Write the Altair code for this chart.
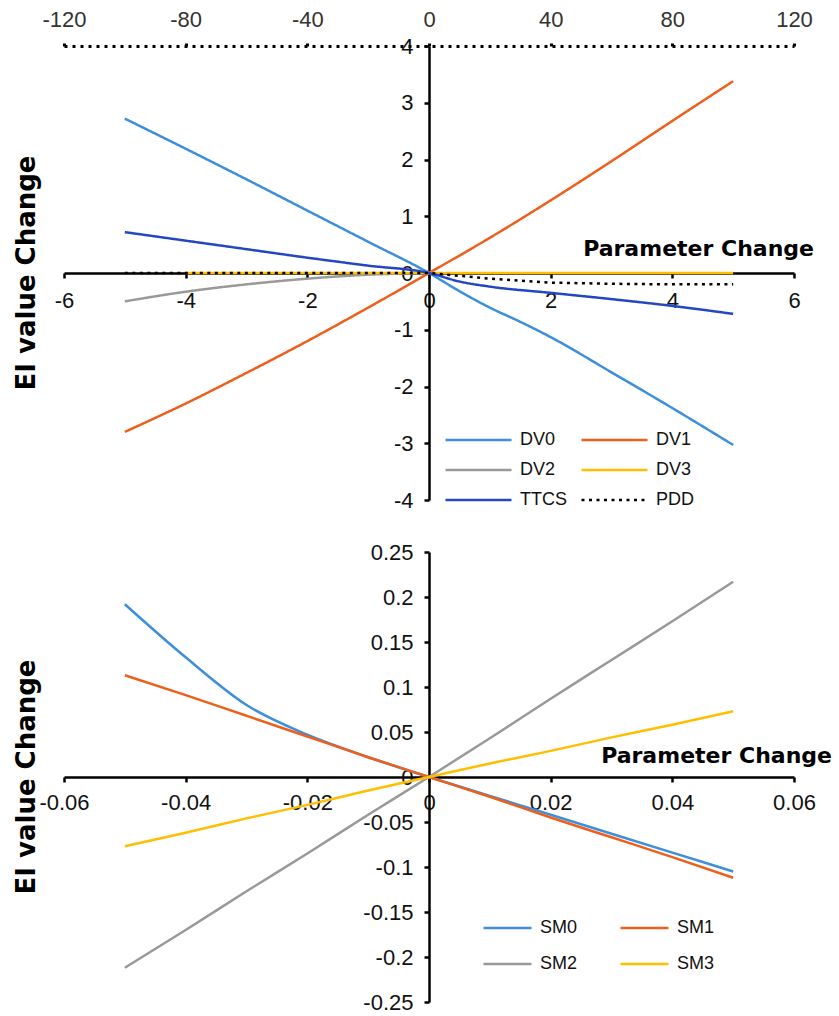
import altair as alt
import pandas as pd

# ---------------- upper panel: DV / TTCS / PDD ----------------
top_names = ["DV0", "DV1", "DV2", "DV3", "TTCS", "PDD"]
top_colors = ["#3D8FDB", "#EE5F1B", "#999999", "#FFBE00", "#2347C2", "#000000"]

dv0_x = [-5, -4, -3, -2, -1, 0, 0.5, 1, 1.5, 2, 3, 4, 5]
dv0_y = [2.72, 2.19, 1.65, 1.1, 0.55, 0, -0.32, -0.61, -0.86, -1.13, -1.75, -2.38, -3.03]
dv1_x = [-5, -4, -3, -2, -1, 0, 1, 2, 3, 4, 5]
dv1_y = [-2.8, -2.3, -1.76, -1.2, -0.61, 0, 0.62, 1.28, 1.97, 2.68, 3.38]
dv2_x = [-5, -4, -3, -2, -1, 0]
dv2_y = [-0.5, -0.33, -0.2, -0.1, -0.03, 0]
dv3_x = [-4, -2, 0, 2, 4, 5]
dv3_y = [0, 0, 0, 0, 0, 0]
ttcs_x = [-5, -4, -3, -2, -1, 0, 0.5, 1, 2, 3, 4, 5]
ttcs_y = [0.72, 0.57, 0.42, 0.27, 0.13, 0, -0.15, -0.24, -0.35, -0.46, -0.58, -0.72]
# PDD lives on the secondary (top) axis, -120..120
pdd_x = [-100, -80, -60, -40, -20, 0, 20, 40, 60, 80, 100]
pdd_y = [0, 0, 0, 0, 0, 0, -0.1, -0.17, -0.19, -0.2, -0.2]

top_x_ticks = [-6, -4, -2, 0, 2, 4, 6]
top_y_ticks = [-4, -3, -2, -1, 0, 1, 2, 3, 4]
sec_x_ticks = [-120, -80, -40, 0, 40, 80, 120]

# ---------------- lower panel: SM series ----------------
bot_names = ["SM0", "SM1", "SM2", "SM3"]
bot_colors = ["#3D8FDB", "#EE5F1B", "#999999", "#FFBE00"]

sm_x = [-0.05, -0.04, -0.03, -0.02, -0.01, 0, 0.01, 0.02, 0.03, 0.04, 0.05]
sm0_y = [0.192, 0.133, 0.08, 0.047, 0.022, 0, -0.021, -0.042, -0.063, -0.084, -0.105]
sm1_y = [0.113, 0.091, 0.068, 0.045, 0.022, 0, -0.022, -0.045, -0.067, -0.089, -0.112]
sm2_y = [-0.212, -0.17, -0.127, -0.085, -0.042, 0, 0.043, 0.087, 0.13, 0.173, 0.217]
sm3_y = [-0.077, -0.062, -0.046, -0.031, -0.015, 0, 0.015, 0.029, 0.044, 0.058, 0.073]

bot_x_ticks = [-0.06, -0.04, -0.02, 0, 0.02, 0.04, 0.06]
bot_y_ticks = [-0.25, -0.2, -0.15, -0.1, -0.05, 0, 0.05, 0.1, 0.15, 0.2, 0.25]

W = 730
H_TOP, H_BOT = 454, 450
TICK_FONT = "Liberation Sans"
BOLD_FONT = "DejaVu Sans"


def long_table(names, xs, ys):
    rows = []
    for n, xv, yv in zip(names, xs, ys):
        for a, b in zip(xv, yv):
            rows.append({"series": n, "x": a, "y": b})
    return pd.DataFrame(rows)


def axis(orient, values, offset, **kw):
    opts = dict(
        orient=orient, values=values, offset=offset, title=None, grid=False,
        domainColor="#000000", domainWidth=2.5, tickColor="#000000", tickWidth=2.5,
        tickSize=5, labelFont=TICK_FONT, labelFontSize=22, labelColor="#111111",
        labelFlush=False, labelOverlap=False, labelExpr="toString(datum.value)",
    )
    opts.update(kw)
    return alt.Axis(**opts)


def legend(x, y, sym_len, row_pad, col_pad):
    return alt.Legend(
        orient="none", legendX=x, legendY=y, columns=2, direction="horizontal",
        symbolType="stroke", symbolSize=sym_len * sym_len, symbolStrokeWidth=2.5,
        clipHeight=24, rowPadding=row_pad, columnPadding=col_pad,
        labelFont=TICK_FONT, labelFontSize=18, labelColor="#111111",
        labelOffset=7, padding=0,
    )


def side_title(h):
    return alt.Chart(pd.DataFrame({"t": ["EI value Change"]})).mark_text(
        angle=270, font=BOLD_FONT, fontWeight="bold", fontSize=26,
        align="center", baseline="middle", color="#000000",
    ).encode(x=alt.value(-37), y=alt.value(h / 2), text="t:N")


def param_label(x, y):
    return alt.Chart(pd.DataFrame({"t": ["Parameter Change"]})).mark_text(
        font=BOLD_FONT, fontWeight="bold", fontSize=22, align="right",
        baseline="alphabetic", color="#000000",
    ).encode(x=alt.value(x), y=alt.value(y), text="t:N")


# ---- upper chart ----
top_df = long_table(top_names[:5], [dv0_x, dv1_x, dv2_x, dv3_x, ttcs_x],
                    [dv0_y, dv1_y, dv2_y, dv3_y, ttcs_y])
pdd_df = long_table(["PDD"], [pdd_x], [pdd_y])

top_color = alt.Scale(domain=top_names, range=top_colors)
top_dash = alt.Scale(domain=top_names, range=[[1, 0]] * 5 + [[3, 4.5]])
top_leg = legend(380, 382, 66, 6, 13)
top_y = alt.Scale(domain=[-4, 4], nice=False, zero=False)
top_y_axis = axis("left", top_y_ticks, -W / 2, labelPadding=11)

dv_lines = alt.Chart(top_df).mark_line(strokeWidth=2.5, interpolate="monotone").encode(
    x=alt.X("x:Q", scale=alt.Scale(domain=[-6, 6], nice=False, zero=False),
            axis=axis("bottom", top_x_ticks, -H_TOP / 2, labelPadding=12)),
    y=alt.Y("y:Q", scale=top_y, axis=top_y_axis),
    color=alt.Color("series:N", scale=top_color, legend=top_leg, title=None),
    strokeDash=alt.StrokeDash("series:N", scale=top_dash, legend=top_leg, title=None),
)

pdd_line = alt.Chart(pdd_df).mark_line(strokeWidth=2.5).encode(
    x=alt.X("x:Q", scale=alt.Scale(domain=[-120, 120], nice=False, zero=False),
            axis=axis("top", sec_x_ticks, 0, domainDash=[3, 5], domainWidth=3,
                      tickSize=3, tickWidth=3, labelPadding=12,
                      labelColor="#333333")),
    y=alt.Y("y:Q", scale=top_y, axis=top_y_axis),
    color=alt.Color("series:N", scale=top_color, legend=top_leg, title=None),
    strokeDash=alt.StrokeDash("series:N", scale=top_dash, legend=top_leg, title=None),
)

top_chart = alt.layer(
    dv_lines, pdd_line, side_title(H_TOP), param_label(750, H_TOP / 2 - 17)
).resolve_scale(x="independent").properties(width=W, height=H_TOP)

# ---- lower chart ----
bot_df = long_table(bot_names, [sm_x] * 4, [sm0_y, sm1_y, sm2_y, sm3_y])
bot_leg = legend(418, 364, 48, 12, 41)

sm_lines = alt.Chart(bot_df).mark_line(strokeWidth=2.5, interpolate="monotone").encode(
    x=alt.X("x:Q", scale=alt.Scale(domain=[-0.06, 0.06], nice=False, zero=False),
            axis=axis("bottom", bot_x_ticks, -H_BOT / 2, labelPadding=10)),
    y=alt.Y("y:Q", scale=alt.Scale(domain=[-0.25, 0.25], nice=False, zero=False),
            axis=axis("left", bot_y_ticks, -W / 2, labelPadding=11)),
    color=alt.Color("series:N", scale=alt.Scale(domain=bot_names, range=bot_colors),
                    legend=bot_leg, title=None),
)

bot_chart = alt.layer(
    sm_lines, side_title(H_BOT), param_label(768, H_BOT / 2 - 14)
).properties(width=W, height=H_BOT)

chart = alt.vconcat(top_chart, bot_chart, spacing=29).resolve_scale(
    color="independent", strokeDash="independent"
).properties(
    padding={"left": 13, "top": 8, "right": 5, "bottom": 5},
    background="#FFFFFF",
).configure_view(stroke=None)

chart.save("out.html", embed_options={"renderer": "svg", "actions": False})
